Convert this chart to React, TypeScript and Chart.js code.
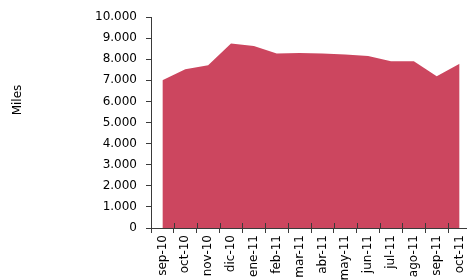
import React, { useEffect, useRef } from "react";
import { Chart, registerables } from "chart.js";

Chart.register(...registerables);

const categories = [
  "sep-10", "oct-10", "nov-10", "dic-10", "ene-11", "feb-11", "mar-11",
  "abr-11", "may-11", "jun-11", "jul-11", "ago-11", "sep-11", "oct-11",
];
const miles = [7000, 7520, 7710, 8740, 8630, 8265, 8295, 8265, 8220, 8150, 7900, 7900, 7190, 7790];
const yMin = 0;
const yMax = 10000;
const yStep = 1000;
const axisTitle = "Miles";

const FONT = "'DejaVu Sans', sans-serif";
const AXIS = "#3a3a3a";

function fmt(v: number): string {
  return String(Math.round(v)).replace(/\B(?=(\d{3})+(?!\d))/g, ".");
}

const titlePlugin = {
  id: "sideTitle",
  afterDraw(chart: any) {
    const ctx = chart.ctx;
    ctx.save();
    ctx.translate(17.5, 100);
    ctx.rotate(-Math.PI / 2);
    ctx.font = `12px ${FONT}`;
    ctx.fillStyle = "#000";
    ctx.textAlign = "center";
    ctx.textBaseline = "middle";
    ctx.fillText(axisTitle, 0, 0);
    ctx.restore();
  },
};

// Excel-style "cross" tick marks on the category axis: extend the ticks into the plot.
const innerTicks = {
  id: "innerTicks",
  afterDraw(chart: any) {
    const xs = chart.scales.x;
    const ctx = chart.ctx;
    const n = categories.length;
    if (n < 2) return;
    const step = xs.getPixelForValue(1) - xs.getPixelForValue(0);
    const y = xs.top;
    ctx.save();
    ctx.strokeStyle = AXIS;
    ctx.lineWidth = 1;
    ctx.beginPath();
    for (let i = 1; i <= n; i++) {
      const x = Math.round(xs.getPixelForValue(i - 1) + step / 2) + 0.5;
      ctx.moveTo(x, y - 5);
      ctx.lineTo(x, y);
    }
    ctx.stroke();
    ctx.restore();
  },
};

export default function App() {
  const ref = useRef<HTMLCanvasElement | null>(null);
  useEffect(() => {
    if (!ref.current) return;
    const chart = new Chart(ref.current, {
      type: "line",
      data: {
        labels: categories,
        datasets: [
          {
            data: miles,
            fill: "origin",
            backgroundColor: "rgb(204,70,95)",
            borderColor: "rgb(204,70,95)",
            borderWidth: 0,
            pointRadius: 0,
            tension: 0,
          },
        ],
      },
      options: {
        animation: false,
        responsive: false,
        maintainAspectRatio: false,
        layout: { padding: { left: 0, right: 9, top: 17, bottom: 0 } },
        plugins: { legend: { display: false }, tooltip: { enabled: false } },
        scales: {
          x: {
            type: "category",
            offset: true,
            grid: {
              offset: true,
              drawOnChartArea: false,
              drawTicks: true,
              tickLength: 5,
              color: AXIS,
            },
            border: { color: AXIS, width: 1 },
            ticks: {
              minRotation: 90,
              maxRotation: 90,
              autoSkip: false,
              padding: 2,
              color: "#000",
              font: { family: FONT, size: 12 },
            },
            afterFit(scale: any) {
              scale.height = 52;
            },
          },
          y: {
            min: yMin,
            max: yMax,
            grid: {
              drawOnChartArea: false,
              drawTicks: true,
              tickLength: 5,
              color: AXIS,
            },
            border: { color: AXIS, width: 1 },
            ticks: {
              stepSize: yStep,
              padding: 9,
              color: "#000",
              font: { family: FONT, size: 12 },
              callback: (v: any) => fmt(Number(v)),
            },
            afterFit(scale: any) {
              scale.width = 151;
            },
          },
        },
      },
      plugins: [titlePlugin, innerTicks],
    });
    return () => chart.destroy();
  }, []);
  return (
    <div style={{ position: "fixed", left: 0, top: 0, width: 467, height: 280, overflow: "hidden", background: "#fff" }}>
      <canvas ref={ref} width={480} height={280} style={{ display: "block", width: 480, height: 280 }} />
    </div>
  );
}
